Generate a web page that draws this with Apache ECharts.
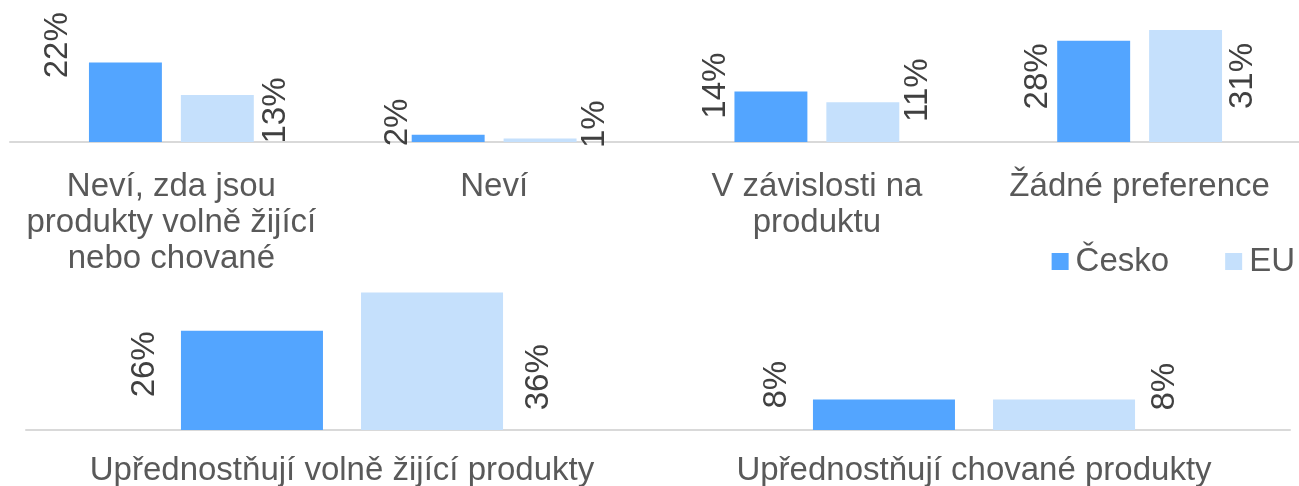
<!DOCTYPE html>
<html>
<head>
<meta charset="utf-8">
<script src="https://cdn.jsdelivr.net/npm/echarts@6/dist/echarts.min.js"></script>
<style>
html,body{margin:0;padding:0;background:#fff;}
#chart{width:1299px;height:486px;}
</style>
</head>
<body>
<div id="chart"></div>
<script>
// ---- data ----
const seriesNames = ['Česko', 'EU'];
const categoriesTop = ['Neví, zda jsou\nprodukty volně žijící\nnebo chované', 'Neví', 'V závislosti na\nproduktu', 'Žádné preference'];
const ceskoTop = [22, 2, 14, 28];
const euTop = [13, 1, 11, 31];
const categoriesBottom = ['Upřednostňují volně žijící produkty', 'Upřednostňují chované produkty'];
const ceskoBottom = [26, 8];
const euBottom = [36, 8];

// ---- label nudges (screen px from bar centre: [right, down]) ----
const shiftCeskoTop = [[-68, -57], [-50, -16], [-55, -31], [-56, -15]];
const shiftEuTop = [[59, -8], [55, -16], [55, -32], [57, -10]];
const shiftCeskoBottom = [[-107, -16], [-107, -30]];
const shiftEuBottom = [[107, 16], [101, -28]];

const FONT = "'Liberation Sans', Arial, sans-serif";
const COL_CZ = '#53A5FF';
const COL_EU = '#C5E0FC';

function items(values, shifts) {
  return values.map((v, i) => ({
    value: v,
    label: { offset: [-shifts[i][1], shifts[i][0]] }
  }));
}

const barLabel = {
  show: true,
  position: 'inside',
  rotate: 90,
  align: 'center',
  verticalAlign: 'middle',
  formatter: '{c}%',
  color: '#404040',
  fontSize: 33,
  fontFamily: FONT
};

const axisLineStyle = { show: true, lineStyle: { color: '#D9D9D9', width: 2 } };

const chart = echarts.init(document.getElementById('chart'), null, { renderer: 'canvas' });
chart.setOption({
  animation: false,
  backgroundColor: '#ffffff',
  legend: {
    data: seriesNames,
    orient: 'horizontal',
    right: 4,
    top: 245,
    padding: 0,
    icon: 'rect',
    itemWidth: 17,
    itemHeight: 17,
    itemGap: 56,
    textStyle: { fontSize: 33, color: '#595959', fontFamily: FONT, padding: [0, 0, 0, 2] }
  },
  grid: [
    { left: 10, width: 1291, top: 15.5, height: 126.5, outerBoundsMode: 'none', containLabel: false },
    { left: 26, width: 1264, top: 277.2, height: 152.8, outerBoundsMode: 'none', containLabel: false }
  ],
  xAxis: [
    {
      type: 'category', gridIndex: 0, data: categoriesTop,
      axisLine: axisLineStyle, axisTick: { show: false },
      axisLabel: { interval: 0, margin: 27, fontSize: 33, lineHeight: 36, color: '#595959', fontFamily: FONT }
    },
    {
      type: 'category', gridIndex: 1, data: categoriesBottom,
      axisLine: axisLineStyle, axisTick: { show: false },
      axisLabel: { interval: 0, margin: 23, fontSize: 33, lineHeight: 36, color: '#595959', fontFamily: FONT }
    }
  ],
  yAxis: [
    { type: 'value', gridIndex: 0, min: 0, max: 35, show: false, splitLine: { show: false } },
    { type: 'value', gridIndex: 1, min: 0, max: 40, show: false, splitLine: { show: false } }
  ],
  series: [
    { name: seriesNames[0], type: 'bar', xAxisIndex: 0, yAxisIndex: 0, data: items(ceskoTop, shiftCeskoTop),
      barWidth: '22.6%', barGap: '26%', itemStyle: { color: COL_CZ }, label: barLabel },
    { name: seriesNames[1], type: 'bar', xAxisIndex: 0, yAxisIndex: 0, data: items(euTop, shiftEuTop),
      barWidth: '22.6%', barGap: '26%', itemStyle: { color: COL_EU }, label: barLabel },
    { name: seriesNames[0], type: 'bar', xAxisIndex: 1, yAxisIndex: 1, data: items(ceskoBottom, shiftCeskoBottom),
      barWidth: '22.47%', barGap: '26.8%', itemStyle: { color: COL_CZ }, label: barLabel },
    { name: seriesNames[1], type: 'bar', xAxisIndex: 1, yAxisIndex: 1, data: items(euBottom, shiftEuBottom),
      barWidth: '22.47%', barGap: '26.8%', itemStyle: { color: COL_EU }, label: barLabel }
  ]
});
</script>
</body>
</html>
